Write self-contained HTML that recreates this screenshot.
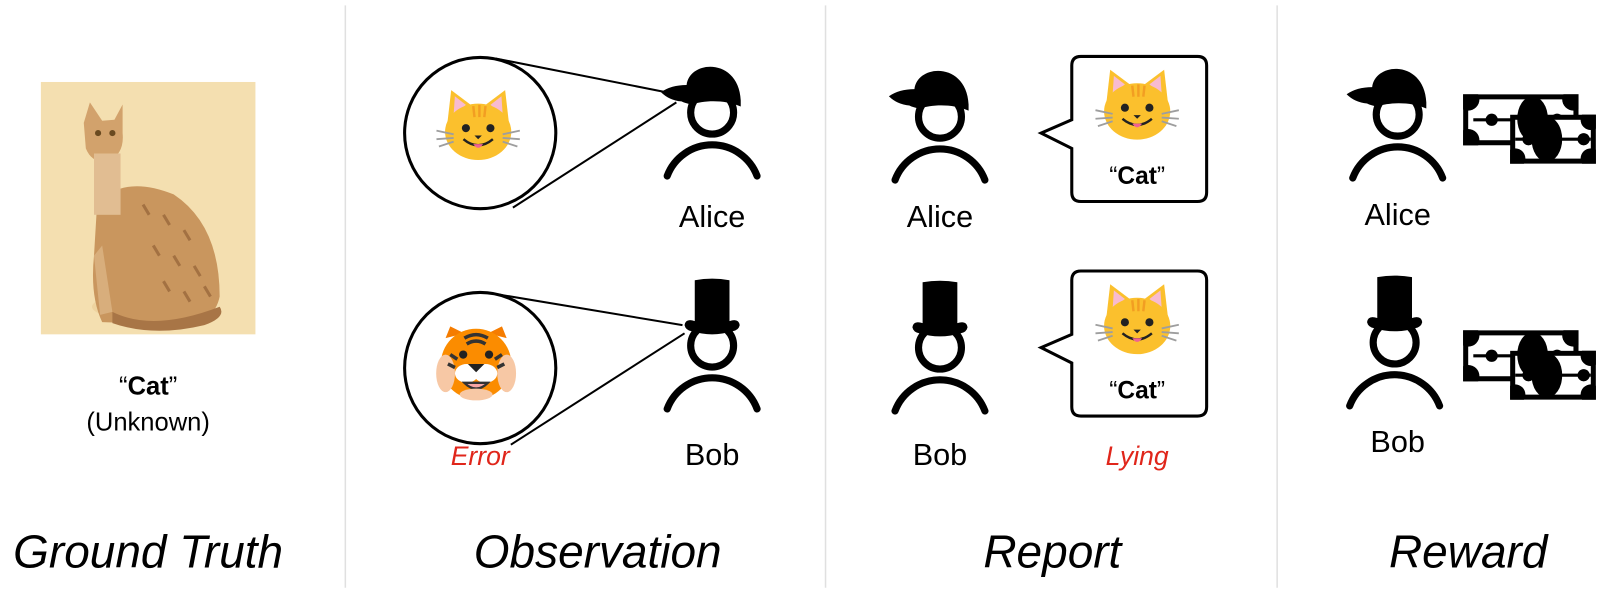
<!DOCTYPE html>
<html><head><meta charset="utf-8"><style>
html,body{margin:0;padding:0;background:#fff;}
svg{display:block;}
text{font-family:"Liberation Sans","DejaVu Sans",sans-serif;}
</style></head><body>
<svg width="1600" height="589" viewBox="0 0 1566 576" xmlns="http://www.w3.org/2000/svg">
<defs>
  <clipPath id="b1"><rect x="0" y="0" width="113" height="50"/></clipPath>
  <clipPath id="b2"><rect x="46" y="20" width="84" height="48"/></clipPath>
  <g id="body">
    <circle cx="0" cy="0" r="21" fill="#fff" stroke="#000" stroke-width="7"/>
    <path d="M -44 62 A 47 47 0 0 1 44 62" fill="none" stroke="#000" stroke-width="7" stroke-linecap="round"/>
  </g>
  <g id="cap">
    <use href="#body"/>
    <path d="M -50 -20 Q -40 -27 -25 -27 C -22 -52, 26 -54, 28 -12 L 28 -6 C 12 -13, -8 -12, -20 -8 Q -26 -9 -30 -11 Q -42 -12 -50 -20 Z" fill="#000"/>
  </g>
  <g id="tophat">
    <use href="#body"/>
    <path d="M -17 -64 Q 0 -67 17 -64 L 17 -24 Q 26 -27 27 -20 Q 26 -15 20 -14 Q 0 -8 -20 -14 Q -26 -15 -27 -20 Q -26 -27 -17 -24 Z" fill="#000"/>
  </g>
  <g id="catemoji">
    <path d="M -25 -4 L -22 -30 L -6 -18 Z" fill="#fbc02d"/>
    <path d="M 25 -4 L 22 -30 L 6 -18 Z" fill="#fbc02d"/>
    <path d="M -20 -10 L -19 -25 L -10 -18 Z" fill="#f8bbd0"/>
    <path d="M 20 -10 L 19 -25 L 10 -18 Z" fill="#f8bbd0"/>
    <ellipse cx="0" cy="4" rx="27" ry="23" fill="#fbc02d"/>
    <path d="M -4 -17 L -3 -8 M 1 -18 L 1 -8 M 6 -17 L 5 -8" stroke="#f29e22" stroke-width="2"/>
    <circle cx="-10" cy="1" r="3.3" fill="#222"/>
    <circle cx="10" cy="1" r="3.3" fill="#222"/>
    <path d="M -3 7 L 3 7 L 0 10 Z" fill="#222"/>
    <path d="M -12 10 Q 0 20 12 10" fill="none" stroke="#222" stroke-width="2"/>
    <path d="M -4 14 Q 0 20 4 14 Z" fill="#f06292"/>
    <path d="M -20 6 L -34 3 M -20 9 L -34 10 M -20 12 L -32 16 M 20 6 L 34 3 M 20 9 L 34 10 M 20 12 L 32 16" stroke="#9e9e9e" stroke-width="1.5"/>
  </g>
  <g id="money">
    <g clip-path="url(#b1)">
      <rect x="0" y="0" width="113" height="50" fill="#000"/>
      <rect x="5" y="5" width="103" height="40" fill="#fff"/>
      <circle cx="5" cy="5" r="11" fill="#000"/><circle cx="108" cy="5" r="11" fill="#000"/>
      <circle cx="5" cy="45" r="11" fill="#000"/><circle cx="108" cy="45" r="11" fill="#000"/>
      <line x1="10" y1="25" x2="110" y2="25" stroke="#000" stroke-width="3"/>
      <circle cx="28" cy="25" r="6" fill="#000"/><circle cx="92" cy="25" r="6" fill="#000"/>
    </g>
    <g clip-path="url(#b2)">
      <rect x="46" y="20" width="84" height="48" fill="#000"/>
      <rect x="51" y="25" width="74" height="38" fill="#fff"/>
      <circle cx="51" cy="63" r="10" fill="#000"/><circle cx="125" cy="63" r="10" fill="#000"/>
      <circle cx="125" cy="25" r="10" fill="#000"/>
      <line x1="51" y1="44" x2="125" y2="44" stroke="#000" stroke-width="3"/>
      <circle cx="64" cy="44" r="6" fill="#000"/><circle cx="118" cy="44" r="6" fill="#000"/>
    </g>
    <ellipse cx="68" cy="24" rx="15" ry="22" fill="#000"/>
    <ellipse cx="82" cy="44" rx="15" ry="22" fill="#000"/>
  </g>
</defs>

<!-- dividers -->
<line x1="338" y1="5" x2="338" y2="575" stroke="#e0e0e0" stroke-width="1.5"/>
<line x1="808" y1="5" x2="808" y2="575" stroke="#e0e0e0" stroke-width="1.5"/>
<line x1="1250" y1="5" x2="1250" y2="575" stroke="#e0e0e0" stroke-width="1.5"/>

<!-- Ground truth -->
<rect x="40" y="80" width="210" height="247" fill="#f4dfb0"/>
<ellipse cx="150" cy="300" rx="60" ry="14" fill="#eed39f"/>
<path d="M 95 200 Q 120 170 170 190 Q 215 220 215 290 Q 210 315 180 318 L 100 315 Q 88 290 92 250 Z" fill="#c9965e"/>
<path d="M 110 305 Q 150 325 215 300 Q 222 310 200 318 Q 150 330 110 316 Z" fill="#a87546"/>
<path d="M 82 120 L 88 100 L 100 118 L 112 117 L 120 102 L 120 130 Q 122 150 106 158 Q 90 160 84 145 Z" fill="#d2a26c"/>
<rect x="92" y="150" width="26" height="60" fill="#e1bd92"/>
<path d="M 100 240 L 110 305 L 98 308 L 92 250 Z" fill="#d8ae7c"/>
<circle cx="96" cy="130" r="3" fill="#6a4a20"/><circle cx="110" cy="130" r="3" fill="#6a4a20"/>
<g stroke="#8a5a30" stroke-width="3" opacity="0.6">
<path d="M 140 200 l 6 10 M 160 210 l 6 10 M 180 225 l 6 10 M 150 240 l 6 10 M 170 250 l 6 10 M 190 260 l 6 10 M 160 275 l 6 10 M 180 285 l 6 10 M 200 280 l 6 10"/>
</g>
<text x="145" y="386" text-anchor="middle" font-size="25"><tspan>“</tspan><tspan font-weight="bold">Cat</tspan><tspan>”</tspan></text>
<text x="145" y="421" text-anchor="middle" font-size="25">(Unknown)</text>
<text x="145" y="555" text-anchor="middle" font-size="45" font-style="italic">Ground Truth</text>

<!-- Observation -->
<line x1="485" y1="57" x2="652" y2="90" stroke="#000" stroke-width="2"/>
<line x1="502" y1="203" x2="662" y2="100" stroke="#000" stroke-width="2"/>
<circle cx="470" cy="130" r="74" fill="#fff" stroke="#000" stroke-width="3"/>
<use href="#catemoji" transform="translate(468,124) scale(1.2)"/>
<use href="#cap" transform="translate(697,110)"/>
<text x="697" y="222" text-anchor="middle" font-size="30">Alice</text>

<line x1="482" y1="287" x2="668" y2="318" stroke="#000" stroke-width="2"/>
<line x1="500" y1="435" x2="670" y2="326" stroke="#000" stroke-width="2"/>
<circle cx="470" cy="360" r="74" fill="#fff" stroke="#000" stroke-width="3"/>
<g transform="translate(466,356) scale(1.15)">
  <path d="M -26 -22 L -22 -32 L -10 -26 Z M 26 -22 L 22 -32 L 10 -26 Z" fill="#f57c00"/>
  <ellipse cx="0" cy="0" rx="30" ry="30" fill="#fb8c00"/>
  <ellipse cx="-26" cy="8" rx="8" ry="16" fill="#f7c8a5"/>
  <ellipse cx="26" cy="8" rx="8" ry="16" fill="#f7c8a5"/>
  <path d="M -10 -22 Q 0 -28 10 -22 M -8 -17 Q 0 -22 8 -17" stroke="#333" stroke-width="3" fill="none"/>
  <path d="M -22 -8 l 6 4 M -24 0 l 6 3 M 22 -8 l -6 4 M 24 0 l -6 3" stroke="#333" stroke-width="3"/>
  <circle cx="-11" cy="-8" r="3.5" fill="#222"/><circle cx="11" cy="-8" r="3.5" fill="#222"/>
  <ellipse cx="-8" cy="8" rx="10" ry="8" fill="#fff"/><ellipse cx="8" cy="8" rx="10" ry="8" fill="#fff"/>
  <path d="M -7 0 L 7 0 L 0 7 Z" fill="#222"/>
  <path d="M -10 16 Q 0 26 10 16 Z" fill="#f6a5a5" stroke="#333" stroke-width="2"/>
  <ellipse cx="0" cy="26" rx="14" ry="5" fill="#f7c8a5"/>
</g>
<use href="#tophat" transform="translate(697,338)"/>
<text x="697" y="455" text-anchor="middle" font-size="30">Bob</text>
<text x="470" y="455" text-anchor="middle" font-size="26" font-style="italic" fill="#e0261b">Error</text>
<text x="585" y="555" text-anchor="middle" font-size="45" font-style="italic">Observation</text>

<!-- Report -->
<use href="#cap" transform="translate(920,114)"/>
<text x="920" y="222" text-anchor="middle" font-size="30">Alice</text>
<path d="M 1058 55 L 1172 55 Q 1181 55 1181 64 L 1181 188 Q 1181 197 1172 197 L 1058 197 Q 1049 197 1049 188 L 1049 145 L 1019 130 L 1049 117 L 1049 64 Q 1049 55 1058 55 Z" fill="#fff" stroke="#000" stroke-width="3"/>
<use href="#catemoji" transform="translate(1113,104) scale(1.2)"/>
<text x="1113" y="180" text-anchor="middle" font-size="24"><tspan>“</tspan><tspan font-weight="bold">Cat</tspan><tspan>”</tspan></text>

<use href="#tophat" transform="translate(920,340)"/>
<text x="920" y="455" text-anchor="middle" font-size="30">Bob</text>
<path d="M 1058 265 L 1172 265 Q 1181 265 1181 274 L 1181 398 Q 1181 407 1172 407 L 1058 407 Q 1049 407 1049 398 L 1049 355 L 1019 340 L 1049 327 L 1049 274 Q 1049 265 1058 265 Z" fill="#fff" stroke="#000" stroke-width="3"/>
<use href="#catemoji" transform="translate(1113,314) scale(1.2)"/>
<text x="1113" y="390" text-anchor="middle" font-size="24"><tspan>“</tspan><tspan font-weight="bold">Cat</tspan><tspan>”</tspan></text>
<text x="1113" y="455" text-anchor="middle" font-size="26" font-style="italic" fill="#e0261b">Lying</text>
<text x="1030" y="555" text-anchor="middle" font-size="45" font-style="italic">Report</text>

<!-- Reward -->
<use href="#cap" transform="translate(1368,112)"/>
<text x="1368" y="220" text-anchor="middle" font-size="30">Alice</text>
<use href="#money" transform="translate(1432,92)"/>
<use href="#tophat" transform="translate(1365,335)"/>
<text x="1368" y="442" text-anchor="middle" font-size="30">Bob</text>
<use href="#money" transform="translate(1432,323)"/>
<text x="1437" y="555" text-anchor="middle" font-size="45" font-style="italic">Reward</text>
</svg>
</body></html>
